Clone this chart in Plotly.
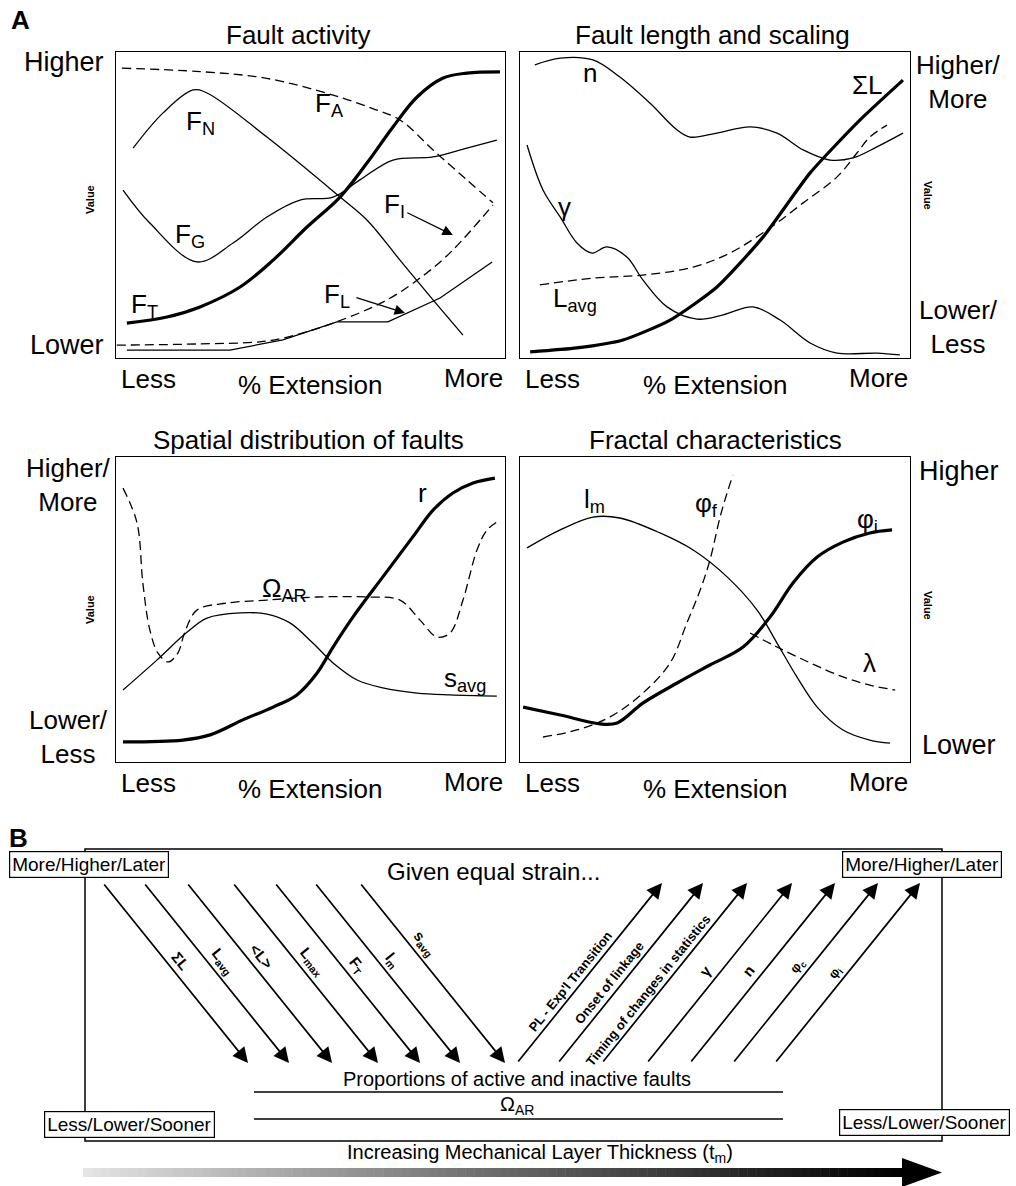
import math
import plotly.graph_objects as go

W, H = 1016, 1186
FONT = "Arial, Liberation Sans, Helvetica, sans-serif"

# ---------------- Panel A data (x: % extension 0=Less..100=More ; y: value 0=Lower..100=Higher)
# Fault activity
fa_x = [1.5, 21.6, 38.7, 55.8, 66.0, 73.0, 81.5, 90.2, 96.9]
fa_y = [94.7, 93.6, 91.4, 85.9, 81.5, 77.8, 68.0, 58.2, 50.7]
fi_x = [0.2, 21.6, 37.0, 42.9, 55.8, 69.7, 79.9, 86.6, 96.9]
fi_y = [4.2, 4.6, 5.3, 6.5, 11.4, 19.0, 27.8, 35.3, 50.0]
fn_x = [4.4, 12.1, 19.8, 23.4, 38.8, 57.6, 64.5, 73.0, 81.5, 89.2]
fn_y = [68.6, 80.1, 87.6, 86.6, 72.2, 52.6, 45.1, 32.0, 19.0, 7.5]
fg_x = [1.8, 8.7, 20.8, 30.1, 38.8, 47.3, 55.8, 62.7, 71.2, 81.5, 90.2, 97.9]
fg_y = [54.9, 44.1, 31.4, 37.6, 46.1, 51.6, 52.6, 58.2, 64.7, 65.7, 68.6, 71.2]
ft_x = [2.8, 13.1, 21.6, 31.9, 40.4, 49.1, 57.6, 64.5, 71.2, 77.4, 84.1, 90.2, 98.7]
ft_y = [11.4, 13.4, 16.7, 23.2, 32.0, 42.8, 52.6, 63.7, 75.5, 85.3, 91.5, 93.1, 93.5]
fl_x = [2.8, 29.3, 42.9, 56.8, 69.9, 83.3, 96.7]
fl_y = [2.6, 2.6, 5.9, 11.8, 11.8, 19.6, 31.4]

# Fault length and scaling
n_x = [3.8, 10.3, 18.7, 25.6, 33.3, 40.3, 43.6, 50.5, 59.0, 65.9, 72.6, 79.5, 85.4, 91.5, 98.2]
n_y = [95.8, 98.0, 97.4, 91.8, 83.3, 74.5, 72.2, 73.5, 75.5, 73.5, 68.0, 64.7, 65.4, 69.0, 73.5]
g_x = [1.8, 5.9, 10.3, 14.6, 18.5, 22.3, 27.4, 31.5, 37.7, 45.4, 52.1, 59.7, 66.7, 74.4, 81.3, 91.5, 97.4]
g_y = [69.6, 54.9, 46.1, 37.6, 34.3, 36.3, 33.0, 25.5, 16.7, 12.7, 14.1, 16.7, 12.4, 4.9, 1.6, 1.6, 1.0]
lavg_x = [5.1, 18.7, 31.5, 44.4, 53.8, 64.1, 72.6, 81.3, 86.4, 89.7, 94.1]
lavg_y = [23.9, 26.1, 27.1, 29.7, 34.3, 42.5, 50.7, 59.2, 67.0, 72.2, 76.1]
sl_x = [2.6, 14.6, 26.4, 38.5, 50.5, 62.3, 74.4, 87.2, 98.2]
sl_y = [2.0, 3.3, 5.9, 12.4, 23.2, 39.5, 60.5, 77.8, 90.8]

# Spatial distribution of faults
r_x = [1.8, 17.2, 24.2, 32.6, 40.4, 46.5, 51.7, 55.8, 60.9, 68.6, 76.3, 81.5, 86.6, 91.8, 97.4]
r_y = [6.6, 7.2, 8.9, 13.8, 18.0, 22.0, 29.2, 37.7, 47.5, 60.7, 73.8, 82.6, 88.2, 91.5, 93.1]
s_x = [1.8, 10.5, 18.3, 23.4, 31.9, 38.8, 44.7, 50.6, 55.8, 62.0, 68.6, 77.4, 85.9, 97.9]
s_y = [23.6, 33.4, 42.6, 47.2, 48.9, 48.5, 45.6, 39.0, 32.5, 26.9, 24.3, 22.6, 22.0, 21.6]
om_x = [1.8, 5.4, 6.9, 8.7, 10.8, 13.4, 15.9, 17.7, 20.8, 28.5, 38.8, 51.7, 64.5, 73.0,
        78.1, 82.5, 85.9, 89.2, 92.8, 95.4, 98.7]
om_y = [89.8, 78.4, 58.7, 43.3, 35.7, 32.8, 35.7, 42.6, 49.8, 52.1, 53.1, 54.1, 54.1, 53.1,
        46.6, 41.0, 42.3, 53.1, 69.5, 76.1, 79.3]

# Fractal characteristics
lm_x = [1.8, 10.3, 18.7, 25.6, 35.9, 44.4, 53.1, 60.8, 65.9, 71.0, 76.2, 82.8, 89.7, 94.9]
lm_y = [70.2, 76.1, 80.3, 80.0, 75.1, 69.5, 60.7, 49.8, 39.0, 27.9, 18.0, 10.5, 7.2, 6.2]
pi_x = [0.8, 10.3, 20.5, 24.9, 31.5, 40.3, 48.7, 57.2, 64.1, 70.0, 76.2, 82.8, 89.7, 95.4]
pi_y = [18.0, 15.4, 12.5, 12.8, 19.3, 25.9, 31.8, 37.7, 47.5, 58.7, 67.2, 72.1, 75.1, 76.1]
pf_x = [5.9, 14.6, 23.1, 31.5, 38.5, 42.8, 46.2, 48.7, 51.3, 53.1, 54.6]
pf_y = [8.2, 10.5, 14.8, 22.6, 32.5, 45.6, 56.4, 66.2, 80.3, 88.2, 94.1]
la_x = [59.0, 65.9, 74.4, 82.8, 89.7, 96.2]
la_y = [42.3, 37.7, 32.5, 27.9, 25.2, 23.6]

# ---------------- Panel B data
down_labels = ["ΣL", "L<sub>avg</sub>", "&lt;L&gt;", "L<sub>max</sub>", "F<sub>T</sub>",
               "l<sub>m</sub>", "s<sub>avg</sub>"]
down_x0 = [103, 144, 187, 233, 275, 315, 360]
down_t = [0.47, 0.48, 0.45, 0.48, 0.50, 0.47, 0.38]
up_labels = ["PL - Exp'l Transition", "Onset of linkage", "Timing of changes in statistics",
             "γ", "n", "φ<sub>c</sub>", "φ<sub>i</sub>"]
up_x0 = [517, 558, 602, 647, 690, 733, 775]
up_t = [0.42, 0.41, 0.37, 0.47, 0.47, 0.50, 0.47]

# ---------------- Layout geometry (pixels)
PANELS = [  # (xaxis, yaxis, left, right, top, bottom)
    ("x", "y", 116, 505, 52, 358),
    ("x2", "y2", 520, 910, 52, 358),
    ("x3", "y3", 116, 505, 457, 762),
    ("x4", "y4", 520, 910, 457, 762),
]

fig = go.Figure()

THIN = dict(color="black", width=1.3, shape="spline", smoothing=1.0)
THICK = dict(color="black", width=3.2, shape="spline", smoothing=1.0)
DASH = dict(color="black", width=1.3, dash="9px,5px", shape="spline", smoothing=1.0)


def add(xs, ys, style, ax, **kw):
    st = dict(style)
    st.update(kw)
    fig.add_trace(go.Scatter(x=xs, y=ys, mode="lines", line=st, xaxis=ax[0], yaxis=ax[1],
                             hoverinfo="skip", showlegend=False))


A1, A2, A3, A4 = ("x", "y"), ("x2", "y2"), ("x3", "y3"), ("x4", "y4")
add(fa_x, fa_y, DASH, A1)
add(fi_x, fi_y, DASH, A1)
add(fn_x, fn_y, THIN, A1)
add(fg_x, fg_y, THIN, A1)
add(fl_x, fl_y, THIN, A1, shape="linear")
add(ft_x, ft_y, THICK, A1)

add(n_x, n_y, THIN, A2)
add(g_x, g_y, THIN, A2)
add(lavg_x, lavg_y, DASH, A2)
add(sl_x, sl_y, THICK, A2, smoothing=0.6)

add(om_x, om_y, DASH, A3)
add(s_x, s_y, THIN, A3)
add(r_x, r_y, THICK, A3)

add(pf_x, pf_y, DASH, A4)
add(la_x, la_y, DASH, A4)
add(lm_x, lm_y, THIN, A4)
add(pi_x, pi_y, THICK, A4)

# axes
layout_axes = {}
for i, (xa, ya, l, r, t, b) in enumerate(PANELS):
    xk = "xaxis" + ("" if i == 0 else str(i + 1))
    yk = "yaxis" + ("" if i == 0 else str(i + 1))
    common = dict(range=[0, 100], showgrid=False, zeroline=False, showticklabels=False,
                  showline=True, linecolor="black", linewidth=1.4, mirror=True, ticks="",
                  fixedrange=True)
    layout_axes[xk] = dict(common, domain=[l / W, r / W], anchor=ya)
    layout_axes[yk] = dict(common, domain=[1 - b / H, 1 - t / H], anchor=xa)
layout_axes["xaxis5"] = dict(domain=[0, 1], range=[0, W], visible=False, anchor="y5", fixedrange=True)
layout_axes["yaxis5"] = dict(domain=[0, 1], range=[H, 0], visible=False, anchor="x5", fixedrange=True)

ann = []
shapes = []


def txt(x, y, s, size, xref="x5", yref="y5", **kw):
    d = dict(x=x, y=y, text=s, xref=xref, yref=yref, showarrow=False,
             font=dict(family=FONT, size=size, color="black"))
    d.update(kw)
    ann.append(d)


# panel letters and titles
txt(20, 20, "<b>A</b>", 26)
txt(18, 838, "<b>B</b>", 26)
txt(298, 35, "Fault activity", 26)
txt(712, 35, "Fault length and scaling", 26)
txt(308, 440, "Spatial distribution of faults", 26)
txt(715, 440, "Fractal characteristics", 26)

# axis descriptors
for (l, r, t, b) in [(116, 505, 52, 358), (520, 910, 52, 358), (116, 505, 457, 762), (520, 910, 457, 762)]:
    txt(l + 32, b + 21, "Less", 26)
    txt((l + r) / 2, b + 27, "% Extension", 26)
    txt(r - 32, b + 20, "More", 26)

txt(106, 62, "Higher", 27, xanchor="right")
txt(106, 345, "Lower", 27, xanchor="right")
txt(90, 200, "<b>Value</b>", 11, textangle=-90)
txt(958, 82, "Higher/<br>More", 26, align="center")
txt(958, 327, "Lower/<br>Less", 26, align="center")
txt(928, 195, "<b>Value</b>", 11, textangle=90)
txt(68, 485, "Higher/<br>More", 26, align="center")
txt(68, 737, "Lower/<br>Less", 26, align="center")
txt(90, 610, "<b>Value</b>", 11, textangle=-90)
txt(959, 471, "Higher", 27)
txt(959, 745, "Lower", 27)
txt(928, 605, "<b>Value</b>", 11, textangle=90)

# curve labels
LS = 26
txt(21.6, 77.1, "F<sub>N</sub>", LS, "x", "y")
txt(55.0, 82.7, "F<sub>A</sub>", LS, "x", "y")
txt(19.0, 39.9, "F<sub>G</sub>", LS, "x", "y")
txt(7.2, 17.3, "F<sub>T</sub>", LS, "x", "y")
txt(71.7, 50.0, "F<sub>I</sub>", LS, "x", "y")
txt(56.8, 20.3, "F<sub>L</sub>", LS, "x", "y")
for (tx, ty, hx, hy) in [(74.5, 47.7, 86.6, 40.2), (61.4, 19.9, 74.3, 14.7)]:
    ann.append(dict(x=hx, y=hy, ax=tx, ay=ty, xref="x", yref="y", axref="x", ayref="y",
                    text="", showarrow=True, arrowhead=2, arrowsize=1.6, arrowwidth=1.3,
                    arrowcolor="black"))

txt(17.9, 93.1, "n", LS, "x2", "y2")
txt(89.0, 89.2, "ΣL", LS, "x2", "y2")
txt(11.5, 49.3, "γ", LS, "x2", "y2")
txt(14.1, 19.0, "L<sub>avg</sub>", LS, "x2", "y2")

txt(78.7, 88.2, "r", LS, "x3", "y3")
txt(43.4, 56.4, "Ω<sub>AR</sub>", LS, "x3", "y3")
txt(89.7, 26.9, "s<sub>avg</sub>", LS, "x3", "y3")

txt(19.2, 85.9, "l<sub>m</sub>", LS, "x4", "y4")
txt(47.9, 84.3, "φ<sub>f</sub>", LS, "x4", "y4")
txt(89.2, 79.3, "φ<sub>i</sub>", LS, "x4", "y4")
txt(89.7, 32.5, "λ", LS, "x4", "y4")

# ---------------- Panel B
shapes.append(dict(type="rect", xref="x5", yref="y5", x0=85, x1=942, y0=849, y1=1141,
                   line=dict(color="black", width=1.5), fillcolor="rgba(0,0,0,0)", layer="below"))
txt(493, 871, "Given equal strain...", 24)

BOX = dict(bordercolor="black", borderwidth=1.2, borderpad=2, bgcolor="white")
txt(89, 864, "More/Higher/Later", 19, **BOX)
txt(922, 864, "More/Higher/Later", 19, **BOX)
txt(129, 1124, "Less/Lower/Sooner", 19, **BOX)
txt(924, 1122, "Less/Lower/Sooner", 19, **BOX)

TOP, BOT, DX = 883, 1063, 145
L = math.hypot(DX, BOT - TOP)
ANG = math.degrees(math.atan2(BOT - TOP, DX))
for lab, x0, t in zip(down_labels, down_x0, down_t):
    ann.append(dict(x=x0 + DX, y=BOT, ax=x0, ay=TOP, xref="x5", yref="y5", axref="x5", ayref="y5",
                    text="", showarrow=True, arrowhead=2, arrowsize=1.8, arrowwidth=1.7,
                    arrowcolor="black"))
    px = x0 + DX * t + 12 * (BOT - TOP) / L
    py = TOP + (BOT - TOP) * t - 12 * DX / L
    txt(px, py, "<b>" + lab + "</b>", 15, textangle=ANG)
for lab, x0, t in zip(up_labels, up_x0, up_t):
    ann.append(dict(x=x0 + DX, y=TOP, ax=x0, ay=BOT, xref="x5", yref="y5", axref="x5", ayref="y5",
                    text="", showarrow=True, arrowhead=2, arrowsize=1.8, arrowwidth=1.7,
                    arrowcolor="black"))
    small = len(lab) > 12
    off = 10 if small else 12
    px = x0 + DX * t - off * (BOT - TOP) / L
    py = BOT - (BOT - TOP) * t - off * DX / L
    txt(px, py, "<b>" + lab + "</b>", 13 if small else 15, textangle=-ANG)

for yl in (1092, 1119):
    shapes.append(dict(type="line", xref="x5", yref="y5", x0=254, x1=783, y0=yl, y1=yl,
                       line=dict(color="black", width=1.6)))
txt(517, 1079, "Proportions of active and inactive faults", 20)
txt(517, 1105, "Ω<sub>AR</sub>", 20)
txt(540, 1153, "Increasing Mechanical Layer Thickness (t<sub>m</sub>)", 20)

# gradient arrow
N = 90
x_a, x_b = 83, 902
for i in range(N):
    t0 = i / N
    c = int(228 * (1 - t0) ** 1.1)
    shapes.append(dict(type="rect", xref="x5", yref="y5",
                       x0=x_a + (x_b - x_a) * t0, x1=x_a + (x_b - x_a) * (i + 1) / N + 0.5,
                       y0=1168, y1=1177, line=dict(width=0), fillcolor=f"rgb({c},{c},{c})"))
shapes.append(dict(type="path", xref="x5", yref="y5",
                   path=f"M {x_b},1158 L 942,1172.5 L {x_b},1187 Z",
                   line=dict(width=0), fillcolor="black"))

fig.update_layout(width=W, height=H, margin=dict(l=0, r=0, t=0, b=0),
                  paper_bgcolor="white", plot_bgcolor="rgba(0,0,0,0)",
                  annotations=ann, shapes=shapes, showlegend=False,
                  font=dict(family=FONT, color="black"), **layout_axes)

fig.write_html("out.html")
